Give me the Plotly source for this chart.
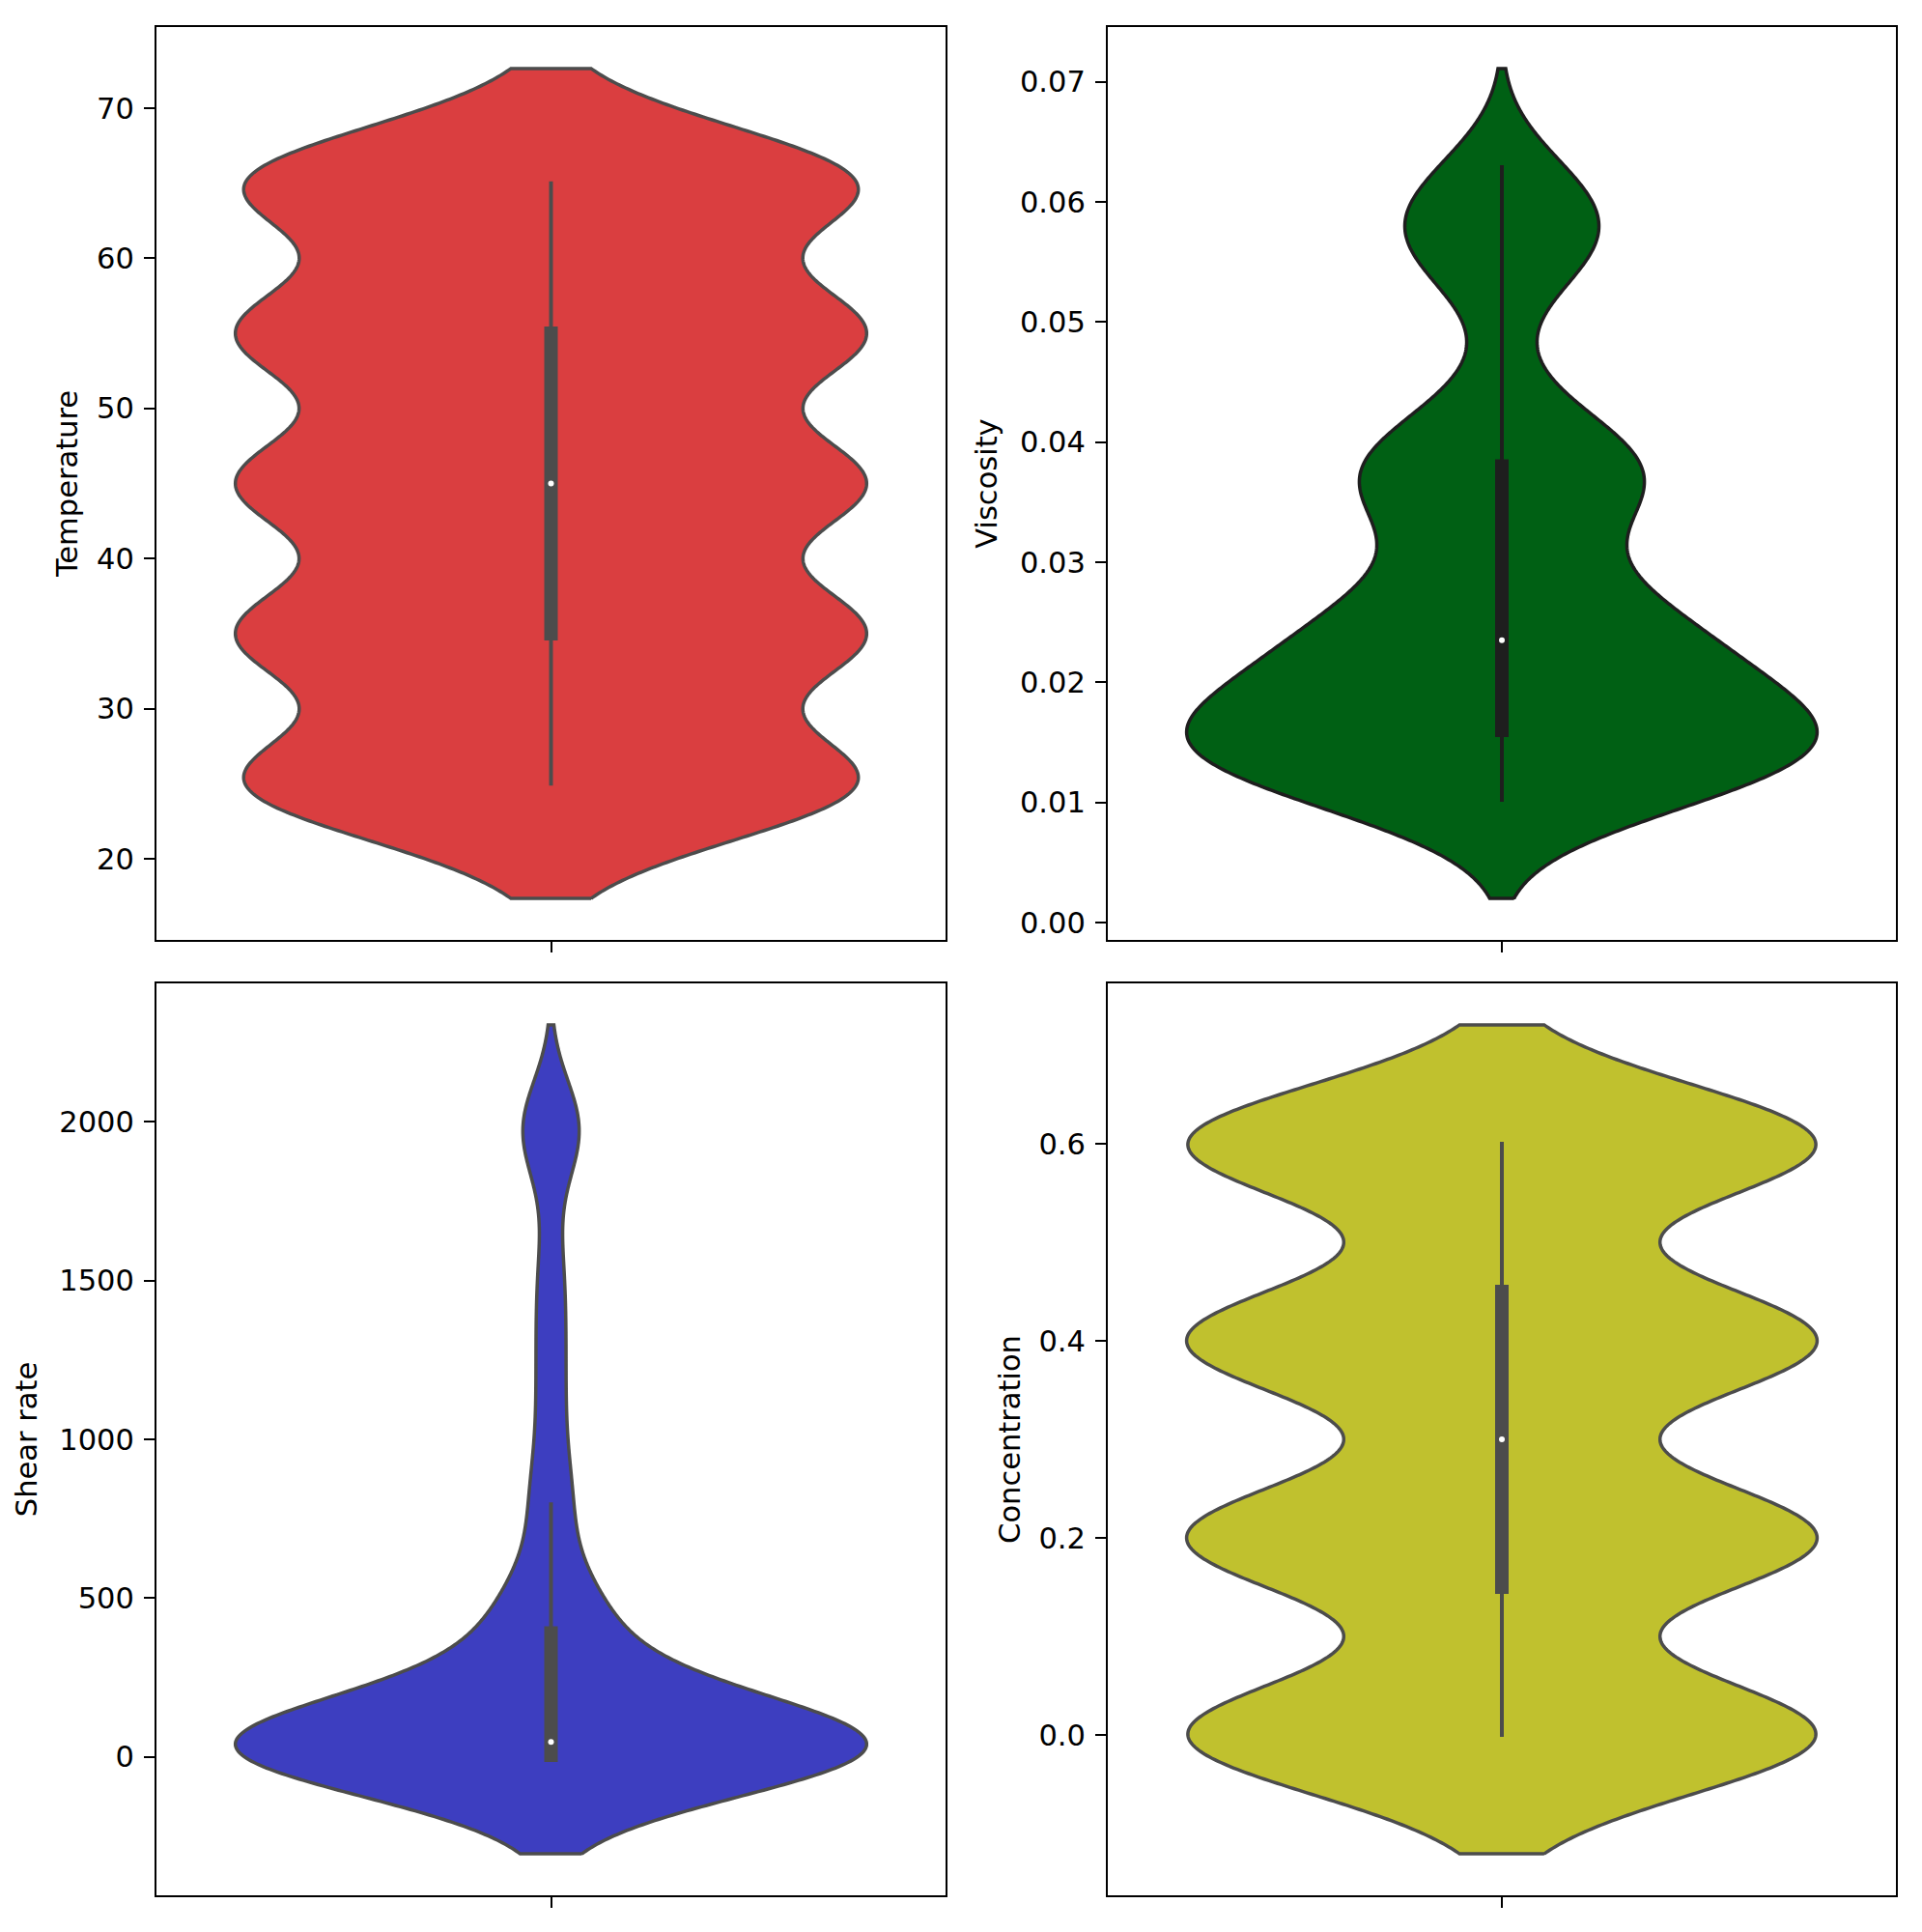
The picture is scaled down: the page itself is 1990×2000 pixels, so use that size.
import numpy as np
import plotly.graph_objects as go

# ---------------- data ----------------
temperature = [25, 35, 45, 55, 65]
concentration = [0.0, 0.2, 0.4, 0.6]
# shear-rate levels and how many runs were made at each level
shear_rate_levels = [0.1, 0.2, 0.5, 1, 1.5, 2, 3, 4, 5,
                     6, 8, 10, 12, 15, 20, 25, 35, 47,
                     55, 65, 80, 100, 125, 160, 210, 280, 390,
                     430, 470, 540, 795,
                     1000, 1150, 1300, 1450, 1600, 1950, 2000]
shear_rate_counts = [20, 20, 20, 20, 20, 20, 20, 20, 20,
                     20, 20, 20, 20, 20, 20, 20, 20, 20,
                     20, 20, 20, 20, 20, 20, 20, 20, 20,
                     20, 14, 14, 24,
                     9, 9, 9, 9, 9, 21, 22]
shear_rate = np.repeat(shear_rate_levels, shear_rate_counts)

viscosity_levels = [0.0102, 0.012, 0.014, 0.016, 0.018, 0.020, 0.022, 0.0235, 0.026, 0.028,
                    0.030, 0.032, 0.034, 0.036, 0.038, 0.040, 0.042, 0.044,
                    0.050, 0.052, 0.054, 0.056, 0.058, 0.060, 0.0629]
viscosity_counts = [19, 15, 25, 28, 18, 11, 14, 15, 12, 9,
                    3, 3, 7, 14, 13, 8, 5, 3,
                    1, 2, 4, 8, 10, 7, 7]
viscosity = np.repeat(viscosity_levels, viscosity_counts)

# KDE bandwidths (min - 2bw .. max + 2bw)
bandwidths = {"Temperature": 3.82, "Viscosity": 0.0041, "Shear rate": 153.0, "Concentration": 0.0603}

# ---------------- layout ----------------
FIG_W, FIG_H = 1990, 2000
FONT = "DejaVu Sans"
FS = 30.5
VIOLIN_WIDTH = 0.8

panels = [
    dict(vals=np.asarray(temperature, float), title="Temperature", fill="#DA3E40", edge="#4C4C4C",
         dtick=10, fmt="d", px_x=(162, 979), px_y=(28, 973), standoff=10),
    dict(vals=np.asarray(viscosity, float), title="Viscosity", fill="#006014", edge="#1E1E1E",
         dtick=0.01, fmt=".2f", px_x=(1147, 1963), px_y=(28, 973), standoff=14),
    dict(vals=np.asarray(shear_rate, float), title="Shear rate", fill="#3D3EC0", edge="#4C4C4C",
         dtick=500, fmt="d", px_x=(162, 979), px_y=(1018, 1962), standoff=14),
    dict(vals=np.asarray(concentration, float), title="Concentration", fill="#C0C12E", edge="#4C4C4C",
         dtick=0.2, fmt=".1f", px_x=(1147, 1963), px_y=(1018, 1962), standoff=10),
]

fig = go.Figure()
layout = dict(width=FIG_W, height=FIG_H, margin=dict(l=0, r=0, t=0, b=0),
              paper_bgcolor="white", plot_bgcolor="white", showlegend=False,
              font=dict(family=FONT, size=FS, color="black"))

for i, p in enumerate(panels, start=1):
    xa = "x" if i == 1 else f"x{i}"
    ya = "y" if i == 1 else f"y{i}"
    vals = p["vals"]
    bw = bandwidths[p["title"]]

    # gaussian KDE evaluated from the data, cut at 2 bandwidths beyond the extremes
    lo = vals.min() - 2 * bw
    hi = vals.max() + 2 * bw
    grid = np.linspace(lo, hi, 600)
    dens = np.exp(-0.5 * ((grid[:, None] - vals[None, :]) / bw) ** 2).sum(axis=1)
    half = 0.5 * VIOLIN_WIDTH * dens / dens.max()
    vx = np.concatenate([half, -half[::-1], half[:1]])
    vy = np.concatenate([grid, grid[::-1], grid[:1]])

    pad = 0.05 * (hi - lo)
    yrange = [lo - pad, hi + pad]
    plot_h = p["px_y"][1] - p["px_y"][0]
    per_px = (yrange[1] - yrange[0]) / plot_h

    fig.add_trace(go.Scatter(x=vx, y=vy, mode="lines", fill="toself", fillcolor=p["fill"],
                             line=dict(color=p["edge"], width=3.5, simplify=False),
                             xaxis=xa, yaxis=ya, hoverinfo="skip", showlegend=False))

    q1, med, q3 = np.percentile(vals, [25, 50, 75])
    iqr = q3 - q1
    w_lo = vals[vals >= q1 - 1.5 * iqr].min()
    w_hi = vals[vals <= q3 + 1.5 * iqr].max()

    fig.add_trace(go.Scatter(x=[0, 0], y=[w_lo - 2 * per_px, w_hi + 2 * per_px], mode="lines",
                             line=dict(color=p["edge"], width=4), xaxis=xa, yaxis=ya,
                             hoverinfo="skip", showlegend=False))
    fig.add_trace(go.Scatter(x=[0, 0], y=[q1 - 7 * per_px, q3 + 7 * per_px], mode="lines",
                             line=dict(color=p["edge"], width=14), xaxis=xa, yaxis=ya,
                             hoverinfo="skip", showlegend=False))
    fig.add_trace(go.Scatter(x=[0], y=[med], mode="markers",
                             marker=dict(color="white", size=6, line=dict(width=0)),
                             xaxis=xa, yaxis=ya, hoverinfo="skip", showlegend=False))

    xd = [p["px_x"][0] / FIG_W, p["px_x"][1] / FIG_W]
    yd = [1 - p["px_y"][1] / FIG_H, 1 - p["px_y"][0] / FIG_H]
    layout["xaxis" if i == 1 else f"xaxis{i}"] = dict(
        domain=xd, anchor=ya, type="linear", range=[-0.5, 0.5],
        tickvals=[0], ticktext=[""], ticks="outside", ticklen=11, tickwidth=2, tickcolor="black",
        showline=True, linecolor="black", linewidth=2, mirror=True,
        showgrid=False, zeroline=False, fixedrange=True)
    layout["yaxis" if i == 1 else f"yaxis{i}"] = dict(
        domain=yd, anchor=xa, type="linear", range=yrange,
        tick0=0, dtick=p["dtick"], tickformat=p["fmt"],
        ticks="outside", ticklen=11, tickwidth=2, tickcolor="black",
        tickfont=dict(family=FONT, size=FS, color="black"), ticklabelstandoff=4,
        showline=True, linecolor="black", linewidth=2, mirror=True,
        showgrid=False, zeroline=False,
        title=dict(text=p["title"], font=dict(family=FONT, size=FS, color="black"),
                   standoff=p["standoff"]))

fig.update_layout(**layout)
fig.write_html("out.html", config={"displayModeBar": False},
               post_script="document.body.style.margin='0';document.body.style.overflow='hidden';")
